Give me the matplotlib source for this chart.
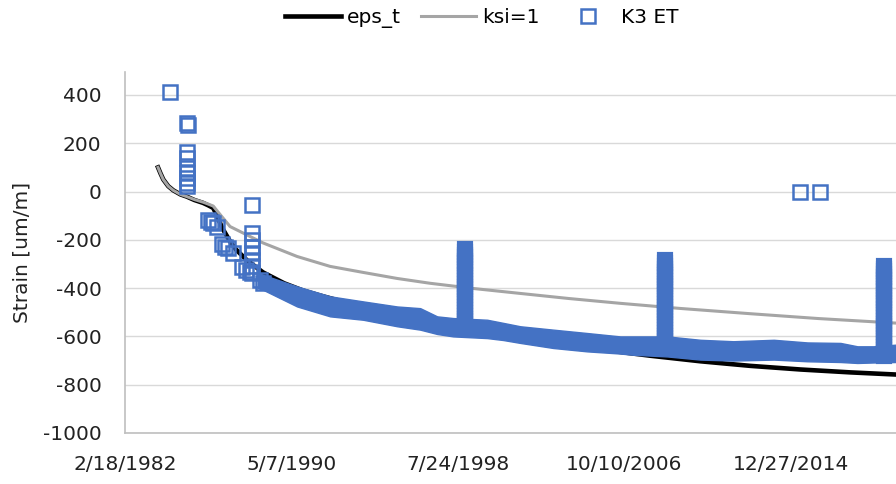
import matplotlib.pyplot as plt

plt.rcParams['axes.unicode_minus'] = False

# x values are Excel date serials (30000 = 2/18/1982)
x_ticks = [30000, 33000, 36000, 39000, 42000]
x_labels = ['2/18/1982', '5/7/1990', '7/24/1998', '10/10/2006', '12/27/2014']
y_ticks = [-1000, -800, -600, -400, -200, 0, 200, 400]

# eps_t (black)
eps_x = [30595, 30640, 30690, 30780, 30870, 31000, 31113, 31250, 31407, 31500, 31590,
         31660, 31750, 31890, 32000, 32200, 32490, 32870, 33210, 33572, 34239, 34961,
         35863, 36765, 37667, 38569, 39471, 40373, 41275, 42177, 43079, 43909]
eps_y = [100, 75, 50, 22, 5, -12, -21, -35, -47, -57, -68,
         -100, -150, -205, -240, -285, -335, -380, -410, -434, -475, -515,
         -558, -595, -627, -654, -680, -703, -722, -737, -749, -758]

# ksi=1 (gray)
ksi_x = [30595, 30640, 30690, 30780, 30870, 31000, 31113, 31250, 31407, 31500, 31590,
         31714, 31894, 32490, 33103, 33698, 34294, 34907, 35502, 36300, 37126, 38000,
         38930, 40000, 41275, 42500, 43909]
ksi_y = [100, 75, 50, 22, 5, -12, -21, -33, -44, -52, -60,
         -95, -145, -213, -269, -310, -335, -360, -380, -402, -422, -443,
         -463, -484, -506, -526, -545]

# K3 ET - single readings
k3_x = [30812, 31113, 31130, 31113, 31113, 31113, 31113, 31113, 31113, 31113,
        31497, 31551, 31588, 31660, 31750, 31804, 31858, 31948, 32110, 32183, 32255,
        32285, 32285, 32285, 32285, 32285, 32285, 32285, 32285,
        32435, 32490, 42177, 42526]
k3_y = [411, 283, 276, 165, 138, 97, 76, 55, 35, 21,
        -117, -125, -130, -146, -216, -229, -233, -254, -311, -324, -332,
        -55, -172, -200, -228, -254, -282, -310, -337,
        -365, -378, 0, 0]

# K3 ET - dense daily readings (envelope of the cloud)
band_x = [32399, 32490, 33103, 33698, 34294, 34907, 35322, 35628, 35917, 36530, 36819,
          37126, 37721, 38334, 38930, 39164, 39778, 40373, 40968, 41698, 42303, 42899,
          43205, 43494, 43909]
band_top = [-340, -345, -393, -434, -455, -476, -483, -517, -524, -531, -544,
            -558, -572, -586, -600, -600, -600, -614, -620, -614, -625, -627,
            -641, -641, -634]
band_bot = [-400, -407, -476, -517, -531, -558, -572, -590, -600, -607, -615,
            -627, -648, -662, -671, -676, -683, -696, -700, -696, -703, -706,
            -710, -708, -706]

# K3 ET - jumps (many readings on one date)
spike1_x = 36134
spike1_y = [-238, -249, -262, -273, -286, -297, -310, -322, -333, -346, -358, -369,
            -382, -394, -405, -418, -430, -441, -454, -466, -477, -490, -502, -514,
            -526, -537, -550, -562]
spike2_x = 39733
spike2_y = [-285, -297, -309, -320, -333, -345, -356, -369, -381, -392, -405, -417,
            -428, -441, -453, -464, -477, -489, -500, -513, -525, -536, -549, -561,
            -572, -585, -597, -608, -621, -632]
spike3_x = 43675
spike3_y = [-307, -319, -331, -342, -355, -367, -378, -391, -403, -414, -427, -439,
            -450, -463, -475, -486, -499, -511, -522, -535, -547, -558, -571, -583,
            -594, -607, -619, -630, -643, -655, -668, -680]

blue = '#4472C4'

fig = plt.figure(figsize=(8.96, 4.84), dpi=100)
ax = fig.add_axes([125 / 896, 1 - 433 / 484, 1 - 125 / 896, (433 - 72) / 484])

l1, = ax.plot(eps_x, eps_y, color='black', lw=3.3, zorder=3, label='eps_t')
l2, = ax.plot(ksi_x, ksi_y, color='#A5A5A5', lw=2.2, zorder=4, label='ksi=1')

mk = dict(marker='s', ms=9.5, mfc='none', mec=blue, mew=1.8, ls='none', zorder=5)
mk_dense = dict(mk, ms=8.2, mew=3.0)
ax.fill_between(band_x, band_bot, band_top, color=blue, lw=1, zorder=5)
l3, = ax.plot(k3_x, k3_y, label='K3 ET', **mk)
ax.plot([spike1_x] * len(spike1_y), spike1_y, **mk_dense)
ax.plot([spike2_x] * len(spike2_y), spike2_y, **mk_dense)
ax.plot([spike3_x] * len(spike3_y), spike3_y, **mk_dense)

ax.set_xlim(30000, 43900)
ax.set_ylim(-1000, 495)
ax.set_xticks(x_ticks)
ax.set_xticklabels(x_labels)
ax.set_yticks(y_ticks)

ax.grid(axis='y', color='#D9D9D9', lw=1)
ax.set_axisbelow(True)
for s in ['top', 'right']:
    ax.spines[s].set_visible(False)
for s in ['left', 'bottom']:
    ax.spines[s].set_color('#BFBFBF')
    ax.spines[s].set_linewidth(1.2)

ax.tick_params(axis='both', length=0, labelsize=14.5, colors='#222222')
ax.tick_params(axis='x', pad=16)
ax.tick_params(axis='y', pad=17)

ax.set_ylabel('Strain [um/m]', fontsize=14.5, color='#222222')
ax.yaxis.set_label_coords((32 - 125) / 771, 0.5)

fig.legend(handles=[l1, l2, l3], loc='center', bbox_to_anchor=(482 / 896, 1 - 18 / 484),
           ncol=3, frameon=False, fontsize=14.5, handlelength=2.75,
           handletextpad=0.3, columnspacing=1.0)

fig.savefig('out.png', dpi=100)
